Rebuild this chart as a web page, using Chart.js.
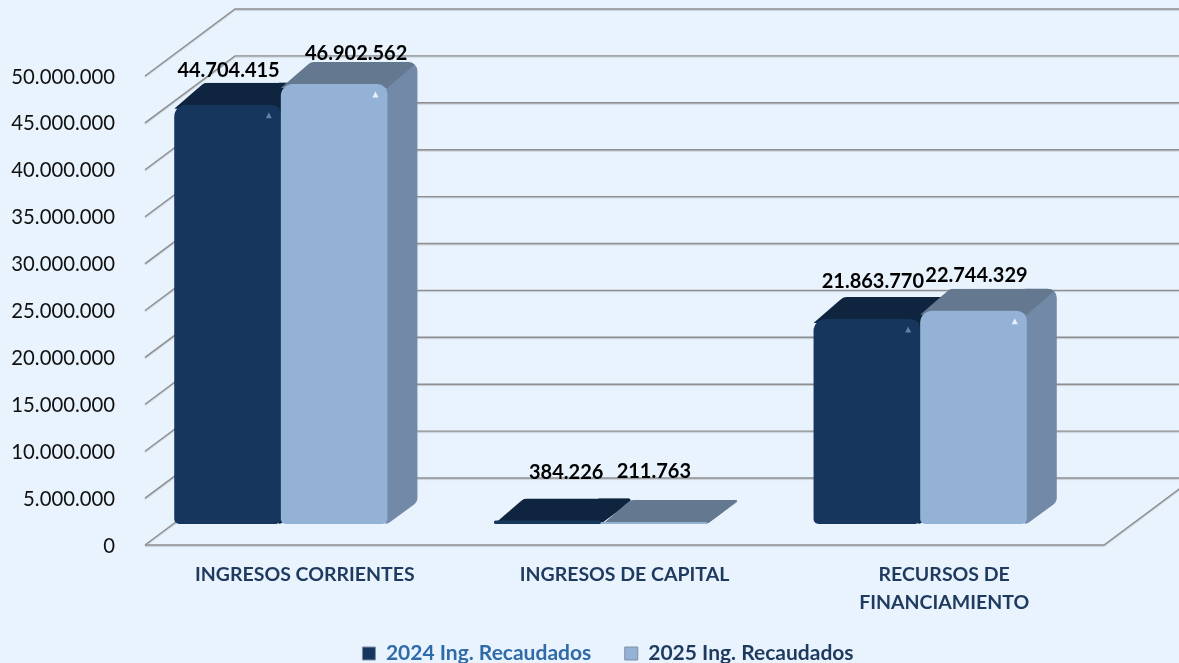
<!DOCTYPE html>
<html lang="es">
<head>
<meta charset="utf-8">
<title>Ingresos recaudados</title>
<script src="https://cdn.jsdelivr.net/npm/chart.js@4/dist/chart.umd.min.js"></script>
<style>
html,body{margin:0;padding:0;background:#e9f3fe;overflow:hidden}
canvas{display:block}
</style>
</head>
<body>
<canvas id="c" width="1179" height="663"></canvas>
<script>
const categories = [["INGRESOS CORRIENTES"], ["INGRESOS DE CAPITAL"], ["RECURSOS DE", "FINANCIAMIENTO"]];
const seriesNames = ["2024 Ing. Recaudados", "2025 Ing. Recaudados"];
const values2024 = [44704415, 384226, 21863770];
const values2025 = [46902562, 211763, 22744329];

// --- presentation ---
const FONT = "Lato, sans-serif";
const WALL = {dx: 90, dy: 67};
const BAR_SHIFT = {x: -24, y: -21};
const BAR_DEPTH = {x: 30, y: 22};
const NUDGE = [[[1, -34], [19, -48], [6, -37]], [[22, -31], [0, -50], [3, -35]]];
const looks = [
  {front: "#16365d", top: "#0f253f", side: "#0f253f", glint: "rgba(150,180,215,.6)", text: "#2f6ba8"},
  {front: "#94b2d6", top: "#64788f", side: "#7289a8", glint: "rgba(235,245,255,.95)", text: "#1f3a5f"}
];
const fmt = v => String(v).replace(/\B(?=(\d{3})+(?!\d))/g, ".");

function roundedPoly(ctx, pts, r) {
  const n = pts.length;
  const dist = (a, b) => Math.hypot(a[0] - b[0], a[1] - b[1]);
  ctx.beginPath();
  ctx.moveTo((pts[0][0] + pts[n - 1][0]) / 2, (pts[0][1] + pts[n - 1][1]) / 2);
  for (let i = 0; i < n; i++) {
    const p = pts[i], q = pts[(i + 1) % n], o = pts[(i - 1 + n) % n];
    const rr = Math.min(r, dist(p, q) / 2.2, dist(p, o) / 2.2);
    ctx.arcTo(p[0], p[1], q[0], q[1], rr);
  }
  ctx.closePath();
}

function drawFaces(ctx, meta, look) {
  meta.data.forEach(bar => {
    const {x, y, base, width} = bar.getProps(["x", "y", "base", "width"], true);
    const l = x - width / 2, r = x + width / 2, D = BAR_DEPTH;
    ctx.save();
    roundedPoly(ctx, [[l, y], [l + D.x, y - D.y], [r + D.x, y - D.y], [r + D.x, base - D.y], [r, base], [l, base]], 9);
    ctx.clip();
    ctx.fillStyle = look.side;
    ctx.fillRect(r - 2, y - D.y - 2, D.x + 4, base - y + D.y + 4);
    ctx.fillStyle = look.top;
    ctx.beginPath();
    ctx.moveTo(l, y + 4); ctx.lineTo(l + D.x, y - D.y); ctx.lineTo(r + D.x, y - D.y); ctx.lineTo(r, y + 4); ctx.closePath();
    ctx.fill();
    ctx.restore();
  });
}

function drawGlints(ctx, meta, look) {
  meta.data.forEach(bar => {
    const {x, y, base, width} = bar.getProps(["x", "y", "base", "width"], true);
    if (base - y < 30) return;
    const gx = x + width / 2 - 12, gy = y + 11;
    ctx.fillStyle = look.glint;
    ctx.beginPath();
    ctx.moveTo(gx, gy - 3.5); ctx.lineTo(gx + 3, gy + 2.5); ctx.lineTo(gx - 3, gy + 2.5); ctx.closePath();
    ctx.fill();
  });
}

const wallsAndFaces = {
  id: "wallsAndFaces",
  afterLayout(chart) {
    const lg = chart.legend;
    lg.left += 56; lg.right += 56; lg.top += 11; lg.bottom += 11;
    lg.adjustHitBoxes();
    chart.scales.x.bottom = chart.height;
    chart.scales.y.getLabelItems(chart.chartArea).forEach(it => { it.options.translation[1] += 1; });
  },
  beforeDatasetDraw() { return false; },
  beforeDatasetsDraw(chart) {
    const {ctx, chartArea: a, scales: {y}} = chart;
    ctx.save();
    ctx.strokeStyle = "#8e8e8e";
    ctx.lineWidth = 1.4;
    ctx.shadowColor = "rgba(0,0,0,.18)";
    ctx.shadowOffsetY = 1;
    ctx.shadowBlur = 1;
    y.ticks.forEach(t => {
      const py = y.getPixelForValue(t.value);
      ctx.beginPath();
      ctx.moveTo(a.left, py);
      ctx.lineTo(a.left + WALL.dx, py - WALL.dy);
      ctx.lineTo(chart.width, py - WALL.dy);
      ctx.stroke();
    });
    const p0 = y.getPixelForValue(0);
    ctx.beginPath();
    ctx.moveTo(a.left, p0);
    ctx.lineTo(a.right, p0);
    ctx.lineTo(a.right + WALL.dx, p0 - WALL.dy);
    ctx.stroke();
    ctx.restore();

    // Left series first, so the right series' front covers its side face.
    ctx.save();
    ctx.translate(BAR_SHIFT.x, BAR_SHIFT.y);
    chart.data.datasets.forEach((ds, i) => {
      const meta = chart.getDatasetMeta(i);
      drawFaces(ctx, meta, looks[i]);
      meta.controller.draw();
      drawGlints(ctx, meta, looks[i]);
    });
    ctx.restore();
  },
  afterDatasetsDraw(chart) {
    const {ctx} = chart;
    ctx.save();
    ctx.font = "bold 20px " + FONT;
    ctx.fillStyle = "#000";
    ctx.textAlign = "center";
    ctx.textBaseline = "middle";
    chart.data.datasets.forEach((ds, si) => {
      chart.getDatasetMeta(si).data.forEach((bar, i) => {
        const n = NUDGE[si][i];
        const {x, y} = bar.getProps(["x", "y"], true);
        ctx.fillText(fmt(ds.data[i]), x + BAR_SHIFT.x + n[0], y + BAR_SHIFT.y + n[1]);
      });
    });
    ctx.restore();
  }
};

new Chart(document.getElementById("c"), {
  type: "bar",
  data: {
    labels: categories,
    datasets: [values2024, values2025].map((vals, i) => ({
      label: seriesNames[i],
      data: vals,
      backgroundColor: looks[i].front,
      borderWidth: 0,
      borderSkipped: false,
      borderRadius: {topLeft: 12, topRight: 10, bottomLeft: 5, bottomRight: 5},
      clip: false,
      categoryPercentage: 0.667,
      barPercentage: 1
    }))
  },
  options: {
    responsive: false,
    animation: false,
    devicePixelRatio: 1,
    layout: {padding: {top: 76, right: 75, left: 0, bottom: 0}},
    plugins: {
      tooltip: {enabled: false},
      legend: {
        position: "bottom",
        labels: {
          boxWidth: 13, boxHeight: 13, padding: 33.5,
          font: {family: FONT, size: 21, weight: "bold"},
          generateLabels(chart) {
            return chart.data.datasets.map((d, i) => ({
              text: d.label, datasetIndex: i,
              fillStyle: looks[i].front, strokeStyle: "#7f8fa3", lineWidth: 1,
              fontColor: looks[i].text, hidden: false
            }));
          }
        }
      }
    },
    scales: {
      x: {
        grid: {display: false},
        border: {display: false},
        afterFit(s) { s.height = 118 - s.chart.legend.height; },
        ticks: {
          color: "#1f3a5f", padding: 8, maxRotation: 0, autoSkip: false,
          font: {family: FONT, size: 19.5, weight: "bold", lineHeight: 1.42}
        }
      },
      y: {
        min: 0, max: 50000000,
        grid: {display: false, drawTicks: false},
        border: {display: false},
        afterFit(s) { s.width = 145; },
        ticks: {
          stepSize: 5000000, color: "#111", padding: 30,
          font: {family: FONT, size: 20.3},
          callback: v => fmt(v)
        }
      }
    }
  },
  plugins: [wallsAndFaces]
});
</script>
</body>
</html>
